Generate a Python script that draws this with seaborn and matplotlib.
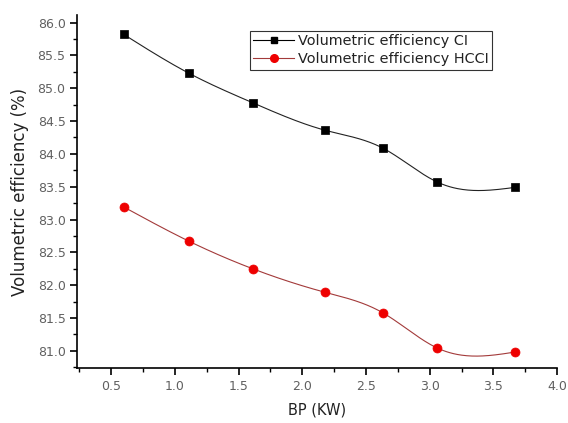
import numpy as np
import pandas as pd
import matplotlib
matplotlib.use("Agg")
import matplotlib.pyplot as plt
import seaborn as sns
from matplotlib.ticker import MultipleLocator, FormatStrFormatter
from matplotlib.lines import Line2D

bp = [0.60, 1.11, 1.61, 2.18, 2.63, 3.06, 3.67]
ve_ci = [85.82, 85.23, 84.78, 84.36, 84.09, 83.57, 83.49]
ve_hcci = [83.19, 82.67, 82.25, 81.89, 81.58, 81.04, 80.98]
label_ci = "Volumetric efficiency CI"
label_hcci = "Volumetric efficiency HCCI"


def natural_spline(x, y, n=300):
    x = np.asarray(x, float)
    y = np.asarray(y, float)
    m = len(x)
    h = np.diff(x)
    A = np.zeros((m, m))
    r = np.zeros(m)
    A[0, 0] = A[-1, -1] = 1
    for i in range(1, m - 1):
        A[i, i - 1] = h[i - 1]
        A[i, i] = 2 * (h[i - 1] + h[i])
        A[i, i + 1] = h[i]
        r[i] = 6 * ((y[i + 1] - y[i]) / h[i] - (y[i] - y[i - 1]) / h[i - 1])
    M = np.linalg.solve(A, r)
    xs = np.linspace(x[0], x[-1], n)
    idx = np.clip(np.searchsorted(x, xs) - 1, 0, m - 2)
    x0, x1 = x[idx], x[idx + 1]
    hh = x1 - x0
    a = (x1 - xs) / hh
    b = (xs - x0) / hh
    ys = a * y[idx] + b * y[idx + 1] + ((a**3 - a) * M[idx] + (b**3 - b) * M[idx + 1]) * hh**2 / 6
    return xs, ys


plt.rcParams["font.family"] = ["DejaVu Sans"]
fig = plt.figure(figsize=(5.68, 4.23), dpi=100)
ax = fig.add_axes([0.135, 0.129, 0.846, 0.836])

xs, ys_ci = natural_spline(bp, ve_ci)
_, ys_hcci = natural_spline(bp, ve_hcci)
curve = pd.DataFrame({"x": np.concatenate([xs, xs]),
                      "y": np.concatenate([ys_ci, ys_hcci]),
                      "s": [label_ci] * len(xs) + [label_hcci] * len(xs)})
pts = pd.DataFrame({"x": bp + bp, "y": ve_ci + ve_hcci,
                    "s": [label_ci] * len(bp) + [label_hcci] * len(bp)})

sns.lineplot(data=curve[curve.s == label_ci], x="x", y="y", color="#222222",
             lw=0.8, ax=ax, legend=False)
sns.lineplot(data=curve[curve.s == label_hcci], x="x", y="y", color="#a33a3a",
             lw=0.8, ax=ax, legend=False)
sns.scatterplot(data=pts[pts.s == label_ci], x="x", y="y", marker="s", s=38,
                color="black", edgecolor="black", linewidth=0.5, ax=ax,
                legend=False, zorder=3)
sns.scatterplot(data=pts[pts.s == label_hcci], x="x", y="y", marker="o", s=42,
                color="#ee0000", edgecolor="#ee0000", linewidth=0.5, ax=ax,
                legend=False, zorder=3)

handles = [Line2D([], [], color="black", lw=0.8, marker="s", ms=5, mfc="black", mec="black"),
           Line2D([], [], color="#a33a3a", lw=0.8, marker="o", ms=5.5, mfc="#ee0000", mec="#ee0000")]
leg = ax.legend(handles, [label_ci, label_hcci], loc="upper left",
                bbox_to_anchor=(0.36, 0.955), frameon=True, fancybox=False,
                edgecolor="black", fontsize=10.4, handlelength=2.8,
                borderpad=0.25, labelspacing=0.25, handletextpad=0.3,
                borderaxespad=0)
leg.get_frame().set_linewidth(0.8)
for t in leg.get_texts():
    t.set_color("#222222")

ax.set_xlim(0.23, 4.0)
ax.set_ylim(80.73, 86.12)
ax.xaxis.set_major_locator(MultipleLocator(0.5))
ax.xaxis.set_minor_locator(MultipleLocator(0.25))
ax.yaxis.set_major_locator(MultipleLocator(0.5))
ax.yaxis.set_minor_locator(MultipleLocator(0.25))
ax.xaxis.set_major_formatter(FormatStrFormatter("%.1f"))
ax.yaxis.set_major_formatter(FormatStrFormatter("%.1f"))
for s in ["top", "right"]:
    ax.spines[s].set_visible(False)
for s in ["left", "bottom"]:
    ax.spines[s].set_linewidth(1.2)
ax.tick_params(which="major", direction="out", length=5, width=1.2,
               labelsize=9, labelcolor="#606060", pad=3)
ax.tick_params(which="minor", direction="out", length=3, width=1.0)
ax.set_xlabel("BP (KW)", fontsize=10.5, labelpad=7, color="#222222")
ax.set_ylabel("Volumetric efficiency (%)", fontsize=12, labelpad=6, color="#222222")

fig.savefig("out.png", dpi=100)
